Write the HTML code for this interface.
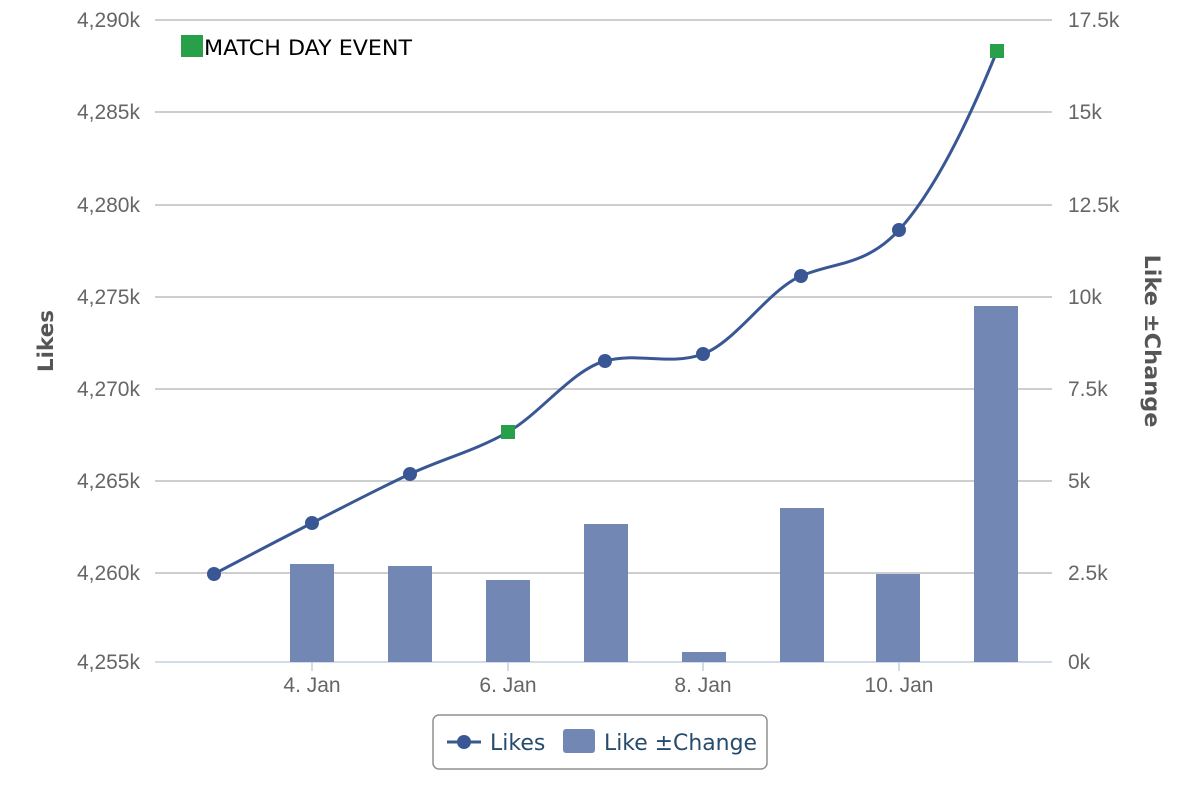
<!DOCTYPE html>
<html><head><meta charset="utf-8"><style>
html,body{margin:0;padding:0;background:#fff;}
svg{display:block;font-family:"Liberation Sans",sans-serif;}
.dj{font-family:"DejaVu Sans",sans-serif;}
</style></head><body>
<svg width="1200" height="800" viewBox="0 0 1200 800">
<g stroke="#bdbdbd" stroke-width="1.5">
<line x1="155" y1="20" x2="1052" y2="20"/>
<line x1="155" y1="112" x2="1052" y2="112"/>
<line x1="155" y1="205" x2="1052" y2="205"/>
<line x1="155" y1="297" x2="1052" y2="297"/>
<line x1="155" y1="389" x2="1052" y2="389"/>
<line x1="155" y1="481" x2="1052" y2="481"/>
<line x1="155" y1="573" x2="1052" y2="573"/>
</g>
<line x1="155" y1="662" x2="1052" y2="662" stroke="#c0d0e0" stroke-width="1.5"/>
<g stroke="#c0d0e0" stroke-width="1.5">
<line x1="312" y1="662" x2="312" y2="671"/><line x1="508" y1="662" x2="508" y2="671"/>
<line x1="703" y1="662" x2="703" y2="671"/><line x1="899" y1="662" x2="899" y2="671"/>
</g>
<g fill="#7387b5">
<rect x="290" y="564" width="44" height="98"/>
<rect x="388" y="566" width="44" height="96"/>
<rect x="486" y="580" width="44" height="82"/>
<rect x="584" y="524" width="44" height="138"/>
<rect x="682" y="652" width="44" height="10"/>
<rect x="780" y="508" width="44" height="154"/>
<rect x="876" y="574" width="44" height="88"/>
<rect x="974" y="306" width="44" height="356"/>
</g>
<path d="M214,574 C230.3,565.5 279.3,539.7 312,523 C344.7,506.3 377.3,489.2 410,474 C442.7,458.8 475.3,450.8 508,432 C540.7,413.2 572.3,370 605,361 C637.7,352 670.3,366 703,354 C735.7,342 768.3,290 801,276 C833.7,262 866.3,266 899,230 C931.7,194 965,130 997,51" fill="none" stroke="#3a5795" stroke-width="3"/>
<g fill="#3a5795">
<circle cx="214" cy="574" r="7"/><circle cx="312" cy="523" r="7"/><circle cx="410" cy="474" r="7"/>
<circle cx="605" cy="361" r="7"/><circle cx="703" cy="354" r="7"/><circle cx="801" cy="276" r="7"/><circle cx="899" cy="230" r="7"/>
</g>
<rect x="501" y="425" width="14" height="14" fill="#28a04a"/>
<rect x="990" y="44" width="14" height="14" fill="#28a04a"/>
<rect x="181" y="35" width="22" height="22" fill="#28a04a"/>
<text class="dj" x="204" y="55" font-size="21.5" fill="#000" textLength="208" lengthAdjust="spacingAndGlyphs">MATCH DAY EVENT</text>
<g font-size="21" fill="#666" text-anchor="end">
<text x="140" y="27">4,290k</text><text x="140" y="119">4,285k</text><text x="140" y="212">4,280k</text>
<text x="140" y="304">4,275k</text><text x="140" y="396">4,270k</text><text x="140" y="488">4,265k</text>
<text x="140" y="580">4,260k</text><text x="140" y="669">4,255k</text>
</g>
<g font-size="21" fill="#666">
<text x="1068" y="27">17.5k</text><text x="1068" y="119">15k</text><text x="1068" y="212">12.5k</text>
<text x="1068" y="304">10k</text><text x="1068" y="396">7.5k</text><text x="1068" y="488">5k</text>
<text x="1068" y="580">2.5k</text><text x="1068" y="669">0k</text>
</g>
<g font-size="21" fill="#666" text-anchor="middle">
<text x="312" y="692">4. Jan</text><text x="508" y="692">6. Jan</text><text x="703" y="692">8. Jan</text><text x="899" y="692">10. Jan</text>
</g>
<text class="dj" transform="translate(53,341) rotate(-90)" text-anchor="middle" font-size="21.5" font-weight="bold" fill="#555">Likes</text>
<text class="dj" transform="translate(1145,341) rotate(90)" text-anchor="middle" font-size="21.5" font-weight="bold" fill="#555" textLength="173" lengthAdjust="spacingAndGlyphs">Like ±Change</text>
<rect x="433" y="715" width="334" height="54" rx="6" fill="#fff" stroke="#909090" stroke-width="1.5"/>
<line x1="447" y1="742" x2="481" y2="742" stroke="#3a5795" stroke-width="3"/>
<circle cx="464" cy="742" r="7" fill="#3a5795"/>
<text class="dj" x="490" y="750" font-size="22" fill="#274b6d">Likes</text>
<rect x="563" y="729" width="32" height="24" rx="3" fill="#7387b5"/>
<text class="dj" x="604" y="750" font-size="22" fill="#274b6d" textLength="153" lengthAdjust="spacingAndGlyphs">Like ±Change</text>
</svg>
</body></html>
